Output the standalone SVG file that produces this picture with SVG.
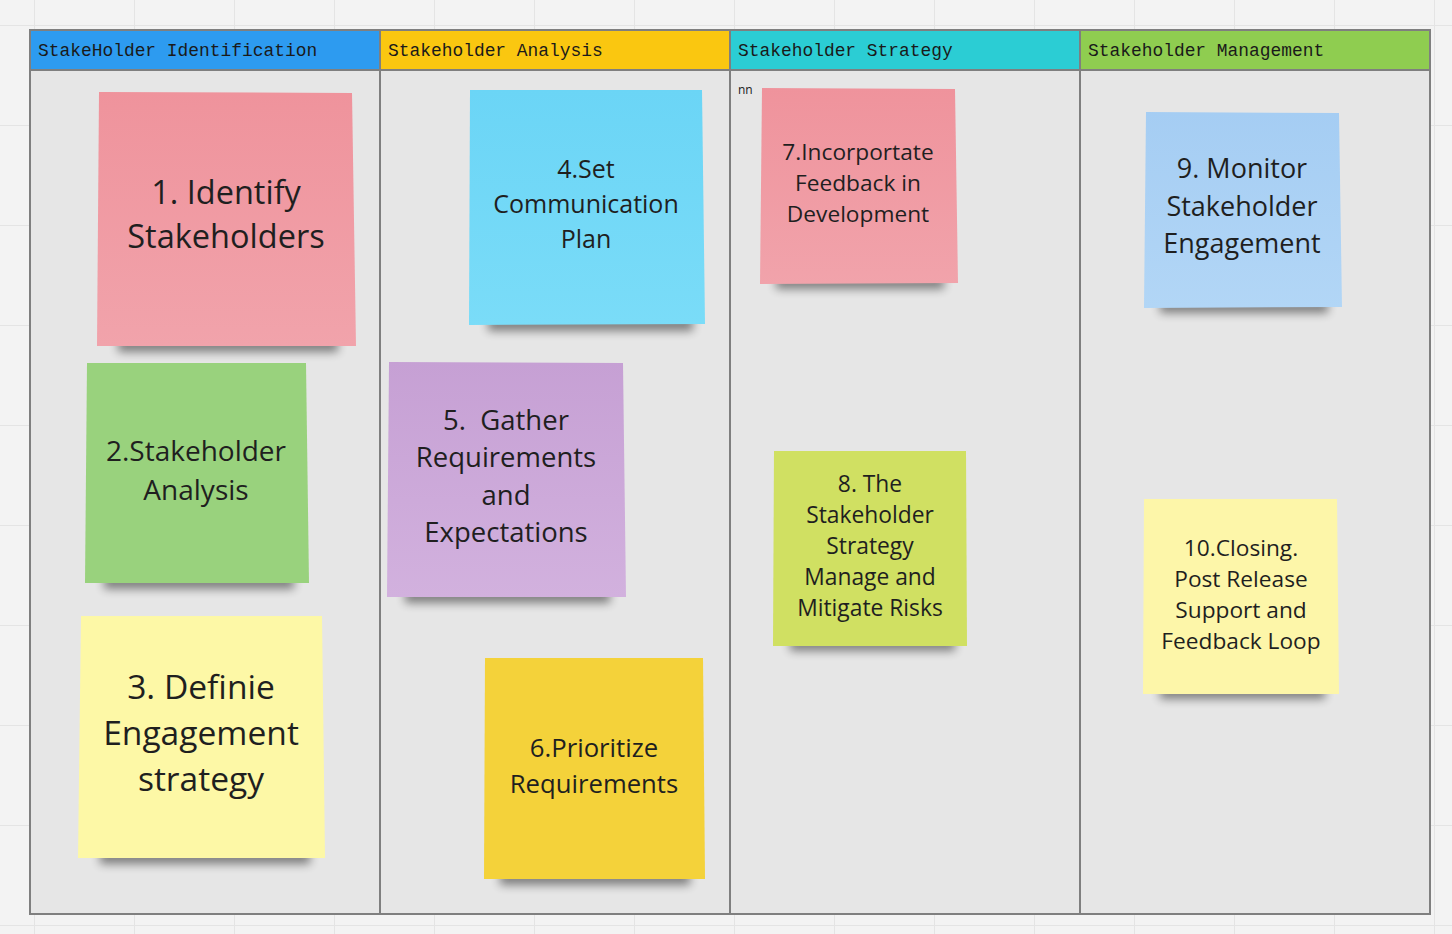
<svg xmlns="http://www.w3.org/2000/svg" width="1452" height="934" viewBox="0 0 1452 934">
<defs>
<pattern id="grid" x="34" y="25" width="100" height="100" patternUnits="userSpaceOnUse">
<path d="M0 0V100M0 0H100" fill="none" stroke="#e4e4e4" stroke-width="2"/>
</pattern>
<filter id="sh" x="-20%" y="-100%" width="140%" height="300%">
<feGaussianBlur stdDeviation="5"/>
</filter>
<linearGradient id="gPink" x1="0" y1="0" x2="0" y2="1"><stop offset="0" stop-color="#ef939c"/><stop offset="1" stop-color="#f1a3ab"/></linearGradient>
<linearGradient id="gCyan" x1="0" y1="0" x2="0" y2="1"><stop offset="0" stop-color="#6bd5f6"/><stop offset="1" stop-color="#7adcf8"/></linearGradient>
<linearGradient id="gPurple" x1="0" y1="0" x2="0" y2="1"><stop offset="0" stop-color="#c6a0d4"/><stop offset="1" stop-color="#d2b1de"/></linearGradient>
<linearGradient id="gBlue" x1="0" y1="0" x2="0" y2="1"><stop offset="0" stop-color="#a5cdf3"/><stop offset="1" stop-color="#b2d6f6"/></linearGradient>
</defs>
<style>
.hdr{font-family:"Liberation Mono","DejaVu Sans Mono",monospace;font-size:17.9px;fill:#1a1a1a}
.t{font-family:"Open Sans","Noto Sans",sans-serif;fill:#1f1f1f;text-anchor:middle}
.col{fill:#e6e6e6;stroke:#7f7f7f;stroke-width:2}
.hb{stroke:#7f7f7f;stroke-width:2}
.shadow{fill:#000;opacity:0.45;filter:url(#sh)}
</style>
<rect width="1452" height="934" fill="#f3f3f3"/>
<rect width="1452" height="934" fill="url(#grid)"/>

<g id="frame">
<rect class="col" x="30" y="30" width="350" height="884"/>
<rect class="col" x="380" y="30" width="350" height="884"/>
<rect class="col" x="730" y="30" width="350" height="884"/>
<rect class="col" x="1080" y="30" width="350" height="884"/>
</g>

<g id="lane1-header"><rect class="hb" x="30" y="30" width="350" height="40" fill="#2d9bf0"/><text class="hdr" x="38" y="56">StakeHolder Identification</text></g>
<g id="lane2-header"><rect class="hb" x="380" y="30" width="350" height="40" fill="#fac710"/><text class="hdr" x="388" y="56">Stakeholder Analysis</text></g>
<g id="lane3-header"><rect class="hb" x="730" y="30" width="350" height="40" fill="#2bcdd4"/><text class="hdr" x="738" y="56">Stakeholder Strategy</text></g>
<g id="lane4-header"><rect class="hb" x="1080" y="30" width="350" height="40" fill="#8fcd50"/><text class="hdr" x="1088" y="56">Stakeholder Management</text></g>

<g id="label-nn"><text x="738" y="94" font-family="Open Sans, sans-serif" font-size="12" fill="#1a1a1a">nn</text></g>

<g id="sticky1">
<rect class="shadow" x="118" y="338" width="220" height="14"/>
<path d="M99 92 L352 93 L356 346 L97 346 Z" fill="url(#gPink)"/>
<text class="t" font-size="32.5"><tspan x="226" y="204">1. Identify</tspan><tspan x="226" y="248">Stakeholders</tspan></text>
</g>

<g id="sticky2">
<rect class="shadow" x="104" y="575" width="190" height="14"/>
<path d="M87 363 L306 363 L309 583 L85 583 Z" fill="#99d27d"/>
<text class="t" font-size="28"><tspan x="196" y="461">2.Stakeholder</tspan><tspan x="196" y="500">Analysis</tspan></text>
</g>

<g id="sticky3">
<rect class="shadow" x="100" y="850" width="210" height="14"/>
<path d="M81 616 L322 616 L325 858 L78 858 Z" fill="#fdf8a6"/>
<text class="t" font-size="33.6"><tspan x="201" y="699">3. Definie</tspan><tspan x="201" y="745">Engagement</tspan><tspan x="201" y="791">strategy</tspan></text>
</g>

<g id="sticky4">
<rect class="shadow" x="488" y="317" width="205" height="14"/>
<path d="M470 90 L702 90 L705 324 L469 325 Z" fill="url(#gCyan)"/>
<text class="t" font-size="25"><tspan x="586" y="178">4.Set</tspan><tspan x="586" y="213">Communication</tspan><tspan x="586" y="248">Plan</tspan></text>
</g>

<g id="sticky5">
<rect class="shadow" x="405" y="589" width="205" height="14"/>
<path d="M389 362 L623 363 L626 597 L387 597 Z" fill="url(#gPurple)"/>
<text class="t" font-size="27.5" xml:space="preserve"><tspan x="506" y="430">5.  Gather</tspan><tspan x="506" y="467">Requirements</tspan><tspan x="506" y="505">and</tspan><tspan x="506" y="542">Expectations</tspan></text>
</g>

<g id="sticky6">
<rect class="shadow" x="500" y="871" width="190" height="14"/>
<path d="M485 658 L703 658 L705 879 L484 879 Z" fill="#f4d23a"/>
<text class="t" font-size="25.7"><tspan x="594" y="757">6.Prioritize</tspan><tspan x="594" y="793">Requirements</tspan></text>
</g>

<g id="sticky7">
<rect class="shadow" x="776" y="276" width="168" height="13"/>
<path d="M762 88 L955 89 L958 283 L760 284 Z" fill="url(#gPink)"/>
<text class="t" font-size="22.7"><tspan x="858" y="160">7.Incorportate</tspan><tspan x="858" y="191">Feedback in</tspan><tspan x="858" y="222">Development</tspan></text>
</g>

<g id="sticky8">
<rect class="shadow" x="790" y="638" width="165" height="13"/>
<path d="M774 451 L966 451 L967 646 L773 646 Z" fill="#d0e062"/>
<text class="t" font-size="22.8"><tspan x="870" y="492">8. The</tspan><tspan x="870" y="523">Stakeholder</tspan><tspan x="870" y="554">Strategy</tspan><tspan x="870" y="585">Manage and</tspan><tspan x="870" y="616">Mitigate Risks</tspan></text>
</g>

<g id="sticky9">
<rect class="shadow" x="1160" y="300" width="168" height="13"/>
<path d="M1146 112 L1339 113 L1342 307 L1144 308 Z" fill="url(#gBlue)"/>
<text class="t" font-size="27"><tspan x="1242" y="178">9. Monitor</tspan><tspan x="1242" y="216">Stakeholder</tspan><tspan x="1242" y="253">Engagement</tspan></text>
</g>

<g id="sticky10">
<rect class="shadow" x="1160" y="686" width="165" height="13"/>
<path d="M1144 499 L1337 499 L1339 694 L1143 694 Z" fill="#fdf6a9"/>
<text class="t" font-size="22.7"><tspan x="1241" y="556">10.Closing.</tspan><tspan x="1241" y="587">Post Release</tspan><tspan x="1241" y="618">Support and</tspan><tspan x="1241" y="649">Feedback Loop</tspan></text>
</g>

<g id="connectors"></g>
</svg>
